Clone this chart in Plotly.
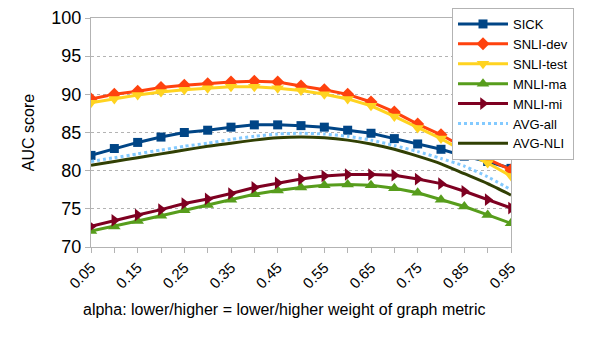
import plotly.graph_objects as go

alpha = [0.05, 0.10, 0.15, 0.20, 0.25, 0.30, 0.35, 0.40, 0.45, 0.50,
         0.55, 0.60, 0.65, 0.70, 0.75, 0.80, 0.85, 0.90, 0.95]

sick = [82.0, 82.9, 83.7, 84.4, 85.0, 85.3, 85.7, 86.0, 86.0, 85.9,
        85.7, 85.3, 84.9, 84.2, 83.5, 82.8, 81.9, 81.2, 80.3]
snli_dev = [89.4, 90.0, 90.4, 90.9, 91.2, 91.4, 91.6, 91.7, 91.6, 91.1,
            90.6, 90.0, 89.0, 87.7, 86.1, 84.7, 83.0, 81.5, 80.1]
snli_test = [88.9, 89.4, 89.9, 90.3, 90.6, 90.8, 91.0, 91.0, 90.8, 90.5,
             90.0, 89.4, 88.5, 87.1, 85.6, 84.2, 82.5, 81.0, 79.3]
mnli_ma = [72.1, 72.7, 73.4, 74.1, 74.8, 75.5, 76.2, 76.9, 77.4, 77.8,
           78.1, 78.2, 78.1, 77.7, 77.1, 76.2, 75.3, 74.2, 73.1]
mnli_mi = [72.7, 73.5, 74.2, 74.9, 75.7, 76.3, 77.0, 77.8, 78.4, 78.9,
           79.3, 79.5, 79.5, 79.4, 78.9, 78.3, 77.3, 76.2, 75.1]
avg_all = [81.2, 81.7, 82.2, 82.7, 83.2, 83.6, 84.1, 84.5, 84.8, 84.9,
           84.8, 84.5, 84.0, 83.3, 82.5, 81.6, 80.6, 79.2, 77.5]
avg_nli = [80.7, 81.2, 81.7, 82.2, 82.7, 83.2, 83.6, 84.0, 84.3, 84.4,
           84.3, 84.0, 83.5, 82.8, 81.9, 80.9, 79.6, 78.3, 76.8]

series = [
    ('SICK', sick, '#004586', 'square', 9, 'solid'),
    ('SNLI-dev', snli_dev, '#ff420e', 'diamond', 10, 'solid'),
    ('SNLI-test', snli_test, '#ffd320', 'triangle-down', 11, 'solid'),
    ('MNLI-ma', mnli_ma, '#579d1c', 'triangle-up', 11, 'solid'),
    ('MNLI-mi', mnli_mi, '#7e0021', 'triangle-right', 11, 'solid'),
    ('AVG-all', avg_all, '#83caff', None, 0, 'dot'),
    ('AVG-NLI', avg_nli, '#314004', None, 0, 'solid'),
]

fig = go.Figure()
for name, vals, color, sym, size, dash in series:
    if sym:
        fig.add_trace(go.Scatter(x=alpha, y=vals, name=name, mode='lines+markers',
                                 line=dict(color=color, width=3, dash=dash),
                                 marker=dict(symbol=sym, size=size, color=color)))
    else:
        fig.add_trace(go.Scatter(x=alpha, y=vals, name=name, mode='lines',
                                 line=dict(color=color, width=3, dash=dash, shape='spline', smoothing=0.6)))

# page body has an 8px margin, so the figure is 8px smaller and shifted
fig.update_layout(
    width=586, height=332,
    margin=dict(l=83, r=83, t=10, b=93, autoexpand=False),
    plot_bgcolor='white', paper_bgcolor='white',
    font=dict(family='Liberation Sans', color='black'),
    legend=dict(xref='container', yref='container', x=444/586, y=1.0,
                xanchor='left', yanchor='top',
                bordercolor='#b3b3b3', borderwidth=1, bgcolor='white',
                font=dict(size=13), itemwidth=50, tracegroupgap=0),
)
# x title sits a little left of the plot centre in the original
fig.add_annotation(text='alpha: lower/higher = lower/higher weight of graph metric',
                   xref='paper', yref='paper', x=0.46, y=-0.275,
                   showarrow=False, font=dict(size=16), xanchor='center', yanchor='middle')
fig.update_xaxes(
    range=[0.05, 0.95], tick0=0.05, dtick=0.1, tickformat='.2f',
    tickangle=-45, tickfont=dict(size=15), automargin=False,
    ticks='outside', ticklen=5, tickcolor='#b3b3b3',
    minor=dict(dtick=0.05, tick0=0.05, ticks='outside', ticklen=5, tickcolor='#b3b3b3', showgrid=False),
    showgrid=False, showline=True, linecolor='#b3b3b3', mirror=True, zeroline=False,
)
fig.update_yaxes(
    range=[70, 100], dtick=5, tickfont=dict(size=18), automargin=False,
    ticklabeloverflow='allow',
    ticks='outside', ticklen=5, tickcolor='#b3b3b3',
    showgrid=True, gridcolor='#b3b3b3', griddash='dot', gridwidth=1,
    showline=True, linecolor='#b3b3b3', mirror=True, zeroline=False,
    title=dict(text='AUC score', font=dict(size=16), standoff=12),
)

fig.write_html("out.html")
